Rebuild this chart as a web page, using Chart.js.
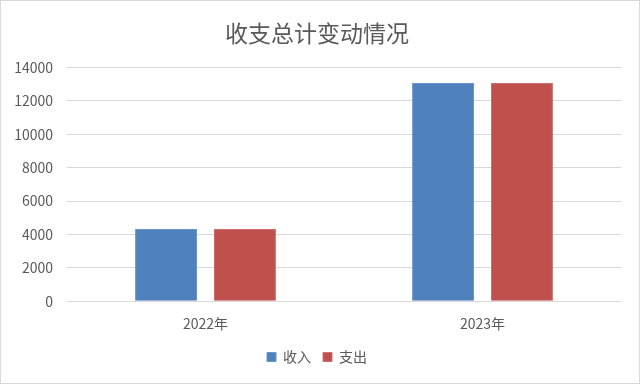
<!DOCTYPE html>
<html lang="zh">
<head>
    <meta charset="UTF-8">
    <title>收支总计变动情况</title>
    <script src="https://cdn.jsdelivr.net/npm/chart.js@4/dist/chart.umd.min.js"></script>
    <style>
        html, body { margin: 0; padding: 0; background: #fff; }
        #wrap { width: 640px; height: 384px; box-sizing: border-box; border: 1px solid #d9d9d9; }
    </style>
</head>
<body>
    <div id="wrap">
    <canvas id="dataChart" width="638" height="382"></canvas>
    </div>

    <script>
        const categories = ['2022年', '2023年'];
        const seriesNames = ['收入', '支出'];
        const incomeValues = [4330, 13080];
        const expenseValues = [4330, 13080];
        const yTicks = [0, 2000, 4000, 6000, 8000, 10000, 12000, 14000];

        const fontFamily = '"Noto Sans CJK SC", "Noto Sans", sans-serif';
        Chart.defaults.font.family = fontFamily;
        Chart.defaults.color = '#595959';

        const ctx = document.getElementById('dataChart').getContext('2d');
        const chart = new Chart(ctx, {
            type: 'bar',
            data: {
                labels: categories,
                datasets: [{
                    label: seriesNames[0],
                    data: incomeValues,
                    backgroundColor: '#4f81bd',
                    borderColor: '#6a95c9',
                    borderWidth: 1,
                    categoryPercentage: 0.57,
                    barPercentage: 0.785
                }, {
                    label: seriesNames[1],
                    data: expenseValues,
                    backgroundColor: '#c0504d',
                    borderColor: '#cc6f6c',
                    borderWidth: 1,
                    categoryPercentage: 0.57,
                    barPercentage: 0.785
                }]
            },
            options: {
                responsive: false,
                animation: false,
                layout: {
                    padding: { left: 12, right: 18, top: 4, bottom: 9 }
                },
                plugins: {
                    title: {
                        display: true,
                        text: '收支总计变动情况',
                        color: '#595959',
                        font: { size: 23, weight: 'normal' },
                        padding: { top: 14, bottom: 21 }
                    },
                    legend: {
                        position: 'bottom',
                        labels: {
                            boxWidth: 9,
                            boxHeight: 9,
                            padding: 12,
                            color: '#595959',
                            font: { size: 14 }
                        }
                    },
                    tooltip: { enabled: false }
                },
                scales: {
                    x: {
                        grid: { display: false },
                        border: { display: false },
                        ticks: { font: { size: 14 }, color: '#595959', padding: 6 }
                    },
                    y: {
                        min: 0,
                        max: 14000,
                        afterBuildTicks: axis => {
                            axis.ticks = yTicks.map(v => ({ value: v }));
                        },
                        afterFit: axis => {
                            axis.width = 54;
                        },
                        grid: { color: '#d9d9d9', drawTicks: false },
                        border: { display: false },
                        ticks: {
                            font: { size: 14 },
                            color: '#595959',
                            padding: 14,
                            callback: value => String(value)
                        }
                    }
                }
            }
        });
    </script>
</body>
</html>
